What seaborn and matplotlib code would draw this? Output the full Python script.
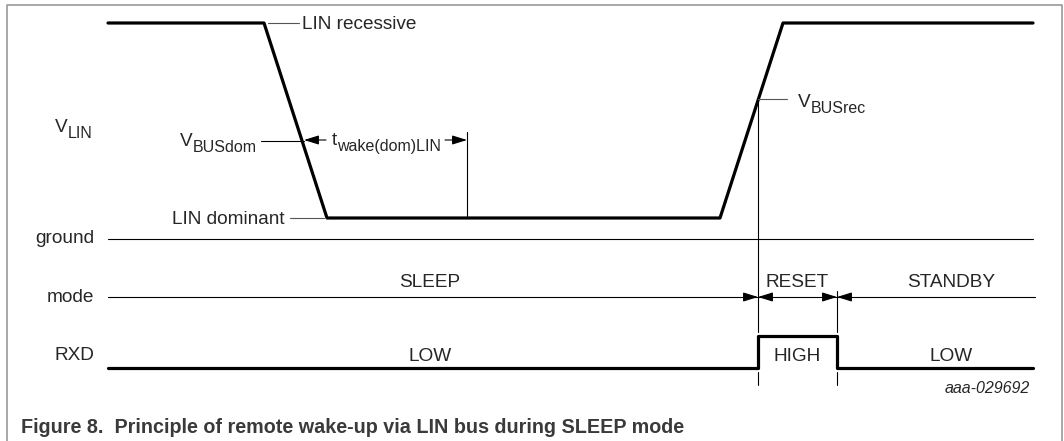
import numpy as np
import pandas as pd
import seaborn as sns
import matplotlib.pyplot as plt

# waveform data (time axis in drawing units, level in drawing units, y grows down)
lin_t = [108, 264, 327, 720, 783, 1033]
lin_v = [23, 23, 218, 218, 23, 23]
rxd_t = [108, 758, 758, 837, 837, 1033]
rxd_v = [368, 368, 336, 336, 368, 368]

t_wake_end = 467
t_rec = 758
t_reset_end = 837

mode_names = ['SLEEP', 'RESET', 'STANDBY']
mode_centers = [430, 797, 951]
rxd_names = ['LOW', 'HIGH', 'LOW']

row_labels = ['ground', 'mode', 'RXD']
row_label_y = [243, 302, 360]

y_ground = 239
y_mode = 297
y_dom_cross = 141
y_rec_cross = 99

sns.set_style('white')
plt.rcParams['font.family'] = ['Liberation Sans', 'DejaVu Sans']

fig = plt.figure(figsize=(10.64, 4.41), dpi=100)
ax = fig.add_axes([0, 0, 1, 1])

fs = 13.7
sub_fs = fs * 0.84
thin = dict(color='black', lw=0.8)
lead = dict(color='#555555', lw=0.8)
arrow = dict(arrowstyle='-|>,head_length=0.9,head_width=0.28',
             color='black', lw=0.8, shrinkA=0, shrinkB=0)

# frame
ax.plot([7, 7, 1062, 1062], [441, 5, 5, 441], color='#999999', lw=1.2)

# signals
lin = pd.DataFrame({'t': lin_t, 'v': lin_v})
rxd = pd.DataFrame({'t': rxd_t, 'v': rxd_v})
sns.lineplot(data=lin, x='t', y='v', sort=False, estimator=None, color='black', lw=2.3, ax=ax)
sns.lineplot(data=rxd, x='t', y='v', sort=False, estimator=None, color='black', lw=2.3, ax=ax)
ax.set_xlim(0, 1064)
ax.set_ylim(441, 0)
ax.axis('off')

# ground and mode lines
ax.plot([108, 1033], [y_ground, y_ground], **thin)
ax.plot([108, 1035], [y_mode, y_mode], **thin)


def head(x, y, direction):
    # filled arrowhead with tip at (x, y)
    ax.annotate('', xy=(x, y), xytext=(x - direction * 11, y), arrowprops=arrow)


for xm in [t_rec, t_reset_end]:
    head(xm, y_mode, 1)
    head(xm, y_mode, -1)

# vertical markers
ax.plot([t_rec, t_rec], [y_rec_cross, 332], **thin)
ax.plot([t_reset_end, t_reset_end], [291, 332], **thin)
for xm in [t_rec, t_reset_end]:
    ax.plot([xm, xm], [372, 385], **thin)
ax.plot([t_wake_end, t_wake_end], [132, 218], **thin)

# wake time arrows
ax.plot([261, 304], [y_dom_cross, y_dom_cross], **thin)
ax.annotate('', xy=(304, 140), xytext=(326, 140), arrowprops=arrow)
ax.annotate('', xy=(t_wake_end, 140), xytext=(445, 140), arrowprops=arrow)

# leader lines
ax.plot([268, 299], [23, 23], **lead)
ax.plot([290, 324], [218, 218], **lead)
ax.plot([t_rec, 787], [y_rec_cross, y_rec_cross], **lead)


def sub_label(x, y, main, sub, ha='left', drop=6):
    if ha == 'left':
        m = ax.text(x, y, main, fontsize=fs, va='baseline')
        ax.annotate(sub, xy=(1, y + drop), xycoords=(m, 'data'),
                    fontsize=sub_fs, va='baseline', ha='left')
    else:
        s = ax.text(x, y + drop, sub, fontsize=sub_fs, va='baseline', ha='right')
        ax.annotate(main, xy=(0, y), xycoords=(s, 'data'),
                    fontsize=fs, va='baseline', ha='right')


# labels
ax.text(302, 29, 'LIN recessive', fontsize=fs, va='baseline')
ax.text(285, 224, 'LIN dominant', fontsize=fs, va='baseline', ha='right')
sub_label(55, 132, 'V', 'LIN')
sub_label(257, 146, 'V', 'BUSdom', ha='right')
sub_label(332, 145, 't', 'wake(dom)LIN')
sub_label(798, 107, 'V', 'BUSrec')

for name, yy in zip(row_labels, row_label_y):
    ax.text(94, yy, name, fontsize=fs, va='baseline', ha='right')

for name, xc in zip(mode_names, mode_centers):
    ax.text(xc, 287, name, fontsize=fs, va='baseline', ha='center')
for name, xc in zip(rxd_names, mode_centers):
    ax.text(xc, 361, name, fontsize=fs, va='baseline', ha='center')

ax.text(1030, 393, 'aaa-029692', fontsize=11.5, style='italic', va='baseline', ha='right')

ax.text(21, 433, 'Figure 8.  Principle of remote wake-up via LIN bus during SLEEP mode',
        fontsize=14.2, fontweight='bold', color='#3a3a3a', va='baseline')

fig.savefig('out.png', dpi=100)
